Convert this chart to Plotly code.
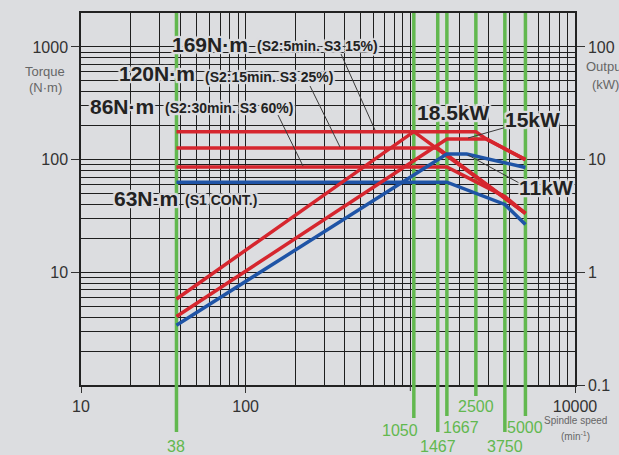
import math
import plotly.graph_objects as go

# ---------------- data ----------------
speed_marks = [38, 1050, 1467, 1667, 2500, 3750, 5000]
speed_mark_labels = ["38", "1050", "1467", "1667", "2500", "3750", "5000"]

# torque curves (N·m)
torque_5min_speed = [38, 1050, 5000]
torque_5min = [177, 177, 33.4]
torque_15min_speed = [38, 1467, 5000]
torque_15min = [127, 127, 33.4]
torque_30min_speed = [38, 1667, 3750, 5000]
torque_30min = [86, 86, 47, 33.4]
torque_cont_speed = [38, 1667, 3750, 5000]
torque_cont = [63, 63, 40, 26.5]

# output curves (kW)
power_185_speed = [38, 1050, 2500, 2900, 5000]
power_185 = [0.58, 17.7, 17.7, 15.2, 10.0]
power_15_speed = [38, 1667, 2900, 5000]
power_15 = [0.405, 15.2, 15.2, 10.0]
power_11_speed = [38, 1667, 2200, 5000]
power_11 = [0.339, 11.2, 11.2, 8.5]

x_tick_vals = [10, 100, 10000]
x_tick_text = ["10", "100", "10000"]
y_tick_vals = [10, 100, 1000]
y_tick_text = ["10", "100", "1000"]
y2_tick_vals = [0.1, 1, 10, 100]
y2_tick_text = ["0.1", "1", "10", "100"]

# ---------------- style ----------------
BG = "#dcdde0"
RED = "#d6262e"
BLUE = "#1f54a6"
GREEN = "#62b84f"
GRID = "#1e1e1e"
TXT = "#333333"
FONT = "Liberation Sans, Arial, sans-serif"
W, H = 619, 455
ML, MR, MT, MB = 81, 44, 13, 70
PW, PH = W - ML - MR, H - MT - MB

HALO = ", ".join(
    f"{dx}px {dy}px 1px {BG}"
    for dx, dy in [(2, 0), (-2, 0), (0, 2), (0, -2), (2, 2), (-2, -2), (2, -2), (-2, 2), (1, 0), (-1, 0), (0, 1), (0, -1)]
)


def px(x):
    return (x - ML) / PW


def py(y):
    return (MT + PH - y) / PH


def minor_vals(lo_exp, hi_exp, top=None, extra=()):
    vals = list(extra)
    for e in range(lo_exp, hi_exp + 1):
        for m in range(2, 10):
            v = m * 10 ** e
            if top is None or v <= top:
                vals.append(v)
    return vals


fig = go.Figure()

# green speed marks inside the plot (below the curves)
for s in speed_marks:
    fig.add_trace(go.Scatter(x=[s, s], y=[1, 2000], mode="lines",
                             line=dict(color=GREEN, width=3.5),
                             hoverinfo="skip", showlegend=False))

# red curves
for xs, ys, ax in [
    (torque_5min_speed, torque_5min, "y"),
    (torque_15min_speed, torque_15min, "y"),
    (torque_30min_speed, torque_30min, "y"),
    (power_185_speed, power_185, "y2"),
    (power_15_speed, power_15, "y2"),
]:
    fig.add_trace(go.Scatter(x=xs, y=ys, yaxis=ax, mode="lines",
                             line=dict(color=RED, width=3.5),
                             hoverinfo="skip", showlegend=False))
# blue curves
for xs, ys, ax in [
    (torque_cont_speed, torque_cont, "y"),
    (power_11_speed, power_11, "y2"),
]:
    fig.add_trace(go.Scatter(x=xs, y=ys, yaxis=ax, mode="lines",
                             line=dict(color=BLUE, width=3.5),
                             hoverinfo="skip", showlegend=False))

shapes = []
annotations = []

# green marks extending below the plot, with their labels
mark_layout = [  # (line bottom px, label centre y px, label x shift px)
    (432, 446, 0), (418, 430, -14), (432, 446, 0), (416, 428, 14),
    (396, 406, 0), (432, 446, 0), (416, 428, 0),
]
for s, lab, (bot, ly, dx) in zip(speed_marks, speed_mark_labels, mark_layout):
    shapes.append(dict(type="line", xref="x", yref="paper", x0=s, x1=s,
                       y0=0, y1=py(bot), line=dict(color=GREEN, width=3.5),
                       layer="above"))
    annotations.append(dict(text=lab, xref="x", yref="paper", x=math.log10(s),
                            y=py(ly), xshift=dx, showarrow=False,
                            xanchor="center", yanchor="middle",
                            font=dict(family=FONT, size=16, color=GREEN)))

# small tick mark at 1000 on the speed axis (unlabelled in the reference)
shapes.append(dict(type="line", xref="x", yref="paper", x0=1000, x1=1000,
                   y0=0, y1=py(391), line=dict(color="#333333", width=1)))

# leader lines
for (x0, y0, x1, y1) in [
    (341, 54, 375, 130),
    (310, 86, 340, 147),
    (278, 115, 303, 166),
    (507, 127, 468, 138),
    (521, 184, 468, 155),
]:
    shapes.append(dict(type="line", xref="paper", yref="paper",
                       x0=px(x0), y0=py(y0), x1=px(x1), y1=py(y1),
                       line=dict(color="#3a3a3a", width=1), layer="above"))


def label(text, x, y, size, bold=True, color="#222222", halo=True, xanchor="center"):
    f = dict(family=FONT, size=size, color=color)
    if bold:
        f["weight"] = "bold"
    if halo:
        f["shadow"] = HALO
    annotations.append(dict(text=text, xref="paper", yref="paper", x=px(x), y=py(y),
                            showarrow=False, xanchor=xanchor, yanchor="middle", font=f))


label("169N·m", 210, 44, 21)
label("(S2:5min. S3 15%)", 317, 46, 14)
label("120N·m", 157, 74, 21)
label("(S2:15min. S3 25%)", 269, 77, 14)
label("86N·m", 122, 106, 21)
label("(S2:30min. S3 60%)", 229, 108, 14)
label("63N·m", 146, 198, 21)
label("(S1 CONT.)", 221, 200, 14)
label("18.5kW", 453, 112, 21)
label("15kW", 532, 120, 21)
label("11kW", 546, 187, 21)

# axis titles
label("Torque", 45, 71, 13, bold=False, color="#666666", halo=False)
label("(N·m)", 45, 87, 13, bold=False, color="#666666", halo=False)
label("Output", 605, 66, 13, bold=False, color="#666666", halo=False)
label("(kW)", 605, 84, 13, bold=False, color="#666666", halo=False)
label("Spindle speed", 575, 421, 10, bold=False, color="#666666", halo=False)
label("(min<sup>-1</sup>)", 575, 436, 10, bold=False, color="#666666", halo=False)

axis_common = dict(
    showline=True, linecolor="#222222", linewidth=1.5,
    ticks="outside", tickcolor="#333333", tickwidth=1,
    tickfont=dict(family=FONT, size=16, color=TXT),
    zeroline=False,
)

fig.update_layout(
    width=W, height=H,
    margin=dict(l=ML, r=MR, t=MT, b=MB, pad=0),
    paper_bgcolor=BG, plot_bgcolor=BG,
    template="none",
    showlegend=False,
    shapes=shapes,
    annotations=annotations,
    xaxis=dict(
        type="log", range=[1, 4], mirror=True,
        tickmode="array", tickvals=x_tick_vals, ticktext=x_tick_text, ticklen=6,
        showgrid=True, gridcolor=GRID, gridwidth=1,
        minor=dict(tickmode="array", tickvals=minor_vals(1, 3, extra=[1000]), showgrid=True,
                   gridcolor=GRID, gridwidth=1, ticks=""),
        **axis_common,
    ),
    yaxis=dict(
        type="log", range=[0, math.log10(2000)], mirror=True,
        tickmode="array", tickvals=y_tick_vals, ticktext=y_tick_text, ticklen=8,
        showgrid=True, gridcolor=GRID, gridwidth=1,
        minor=dict(tickmode="array", tickvals=minor_vals(0, 3, 2000), showgrid=True,
                   gridcolor=GRID, gridwidth=1, ticks=""),
        **axis_common,
    ),
    yaxis2=dict(
        type="log", range=[-1, math.log10(200)], overlaying="y", side="right",
        tickmode="array", tickvals=y2_tick_vals, ticktext=y2_tick_text, ticklen=8,
        showgrid=False,
        **axis_common,
    ),
)

fig.write_html(
    "out.html",
    config={"displayModeBar": False},
    post_script=(
        "document.documentElement.style.margin='0';"
        "document.body.style.margin='0';"
        "document.body.style.padding='0';"
        "document.body.style.background='" + BG + "';"
        "document.body.style.overflow='hidden';"
    ),
)
